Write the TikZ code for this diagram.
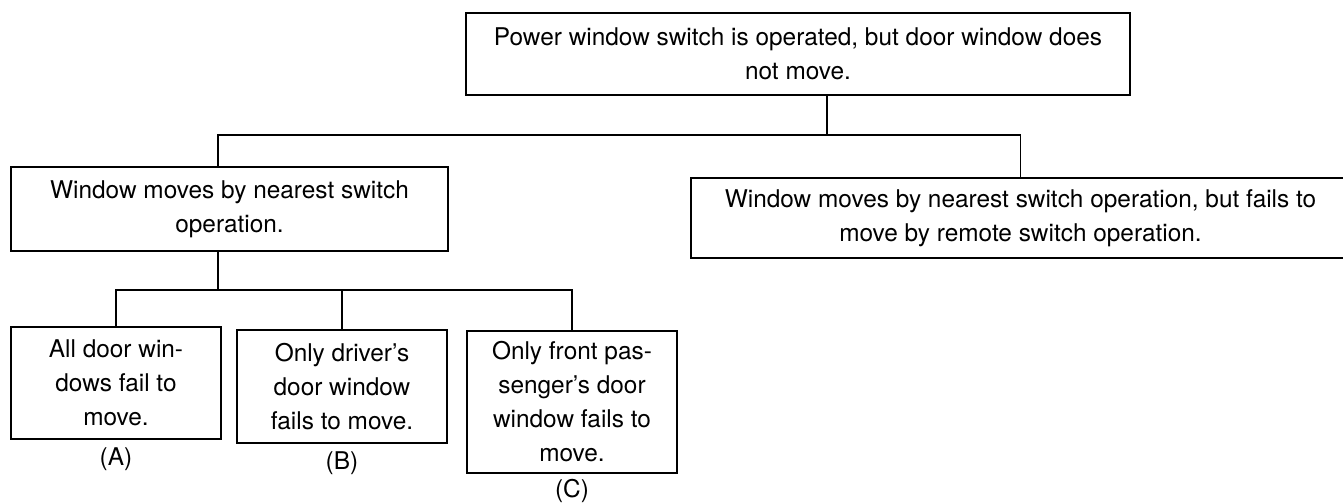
\documentclass[tikz,border=0pt]{standalone}
\usepackage{fontspec}
\setmainfont{TeX Gyre Heros}
\usetikzlibrary{positioning}

\begin{document}
\begin{tikzpicture}[
  x=0.5pt, y=-0.5pt,
  every node/.style={align=center, font=\fontsize{12.2}{17}\selectfont},
  box/.style={draw, line width=1pt, inner sep=2pt},
  tag/.style={inner sep=0pt, outer sep=0pt},
  link/.style={line width=0.7pt}
]
\useasboundingbox (0,0) rectangle (1343,503);
% Nodes
\node[box, minimum width=332pt, minimum height=41pt] (top) at (798,54)
  {Power window switch is operated, but door window does\\not move.};
\node[box, minimum width=218.5pt, minimum height=42pt] (nearest) at (229.5,209)
  {Window moves by nearest switch\\operation.};
\node[box, minimum width=329.5pt, minimum height=40pt] (remote) at (1020.5,218)
  {Window moves by nearest switch operation, but fails to\\move by remote switch operation.};
\node[box, minimum width=105pt, minimum height=56pt] (all) at (116,383)
  {All door win-\\dows fail to\\move.};
\node[box, minimum width=105pt, minimum height=56.5pt] (driver) at (342,386.5)
  {Only driver's\\door window\\fails to move.};
\node[box, minimum width=105pt, minimum height=71pt] (passenger) at (572,402)
  {Only front pas-\\senger's door\\window fails to\\move.};
\node[tag, below=4pt of all] (A) {(A)};
\node[tag, below=4pt of driver] (B) {(B)};
\node[tag, below=2.5pt of passenger] (C) {(C)};
% Connectors
\coordinate (split) at (827,135);
\coordinate (fork) at (218,290);
\draw[link] (top.south -| split) -- (split);
\draw[link] ([xshift=-5.75pt]nearest.north) |- (split) -| (remote.north);
\draw[link] ([xshift=-5.75pt]nearest.south) -- (fork);
\draw[link] (all.north) |- (fork) -| (passenger.north);
\draw[link] (driver.north) -- (driver.north |- fork);
\end{tikzpicture}
\end{document}
